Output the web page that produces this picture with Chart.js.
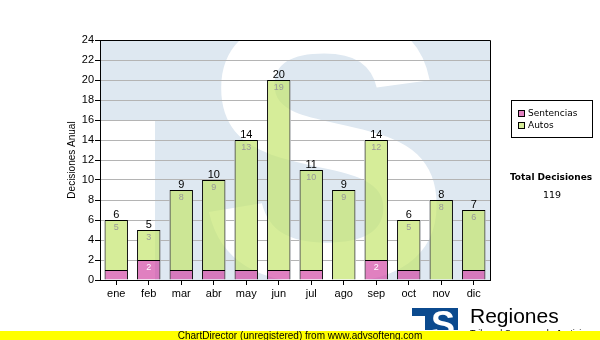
<!DOCTYPE html>
<html>
<head>
<meta charset="utf-8">
<script src="https://cdn.jsdelivr.net/npm/chart.js@4/dist/chart.umd.min.js"></script>
<style>
  html, body { margin: 0; padding: 0; background: #fff; }
  #wrap { width: 600px; height: 340px; position: relative; }
</style>
</head>
<body>
<div id="wrap"><canvas id="c" width="600" height="340"></canvas></div>
<script>
// Monthly decisions, stacked: sentences at the bottom, orders on top
const categories = ['ene', 'feb', 'mar', 'abr', 'may', 'jun', 'jul', 'ago', 'sep', 'oct', 'nov', 'dic'];
const sentencias = [1, 2, 1, 1, 1, 1, 1, 0, 2, 1, 0, 1];
const autos = [5, 3, 8, 9, 13, 19, 10, 9, 12, 5, 8, 6];
const seriesNames = ['Sentencias', 'Autos'];
const yMin = 0, yMax = 24, yStep = 2;
const yTitle = 'Decisiones Anual';
const totalTitle = 'Total Decisiones';

const FONT = '"Liberation Sans", Arial, sans-serif';
const UI_FONT = '"DejaVu Sans", Verdana, sans-serif';
const PINK = 'rgba(211, 74, 165, 0.7)';
const GREEN = 'rgba(196, 229, 110, 0.7)';
const WM_BLUE = 'rgb(222, 232, 241)';
const LOGO_BLUE = '#0b4a8e';

Chart.defaults.font.family = FONT;
Chart.defaults.color = '#000';

// Light "TS" emblem painted behind the plot
function paintEmblem(ctx, a) {
  const w = a.right - a.left, h = a.bottom - a.top;
  ctx.save();
  ctx.beginPath();
  ctx.rect(a.left, a.top, w, h);
  ctx.clip();
  ctx.fillStyle = '#fff';
  ctx.fillRect(a.left, a.top, w, h);
  ctx.fillStyle = WM_BLUE;
  ctx.fillRect(a.left, a.top, w, h);
  ctx.fillStyle = '#fff';
  ctx.fillRect(a.left, a.top + 80, 55, h - 80);
  ctx.font = 'bold 380px "Liberation Sans", Arial, sans-serif';
  ctx.textBaseline = 'alphabetic';
  ctx.textAlign = 'left';
  ctx.fillText('S', a.left + 98, a.bottom);
  ctx.restore();
}

const decorations = {
  id: 'decorations',
  beforeDraw(chart) {
    const ctx = chart.ctx;
    ctx.save();
    ctx.fillStyle = '#fff';
    ctx.fillRect(0, 0, chart.width, chart.height);
    ctx.restore();
    paintEmblem(ctx, chart.chartArea);
  },
  beforeDatasetsDraw(chart) {
    // keep grid lines from showing through the translucent bars
    const ctx = chart.ctx;
    ctx.save();
    ctx.beginPath();
    chart.data.datasets.forEach((ds, i) => {
      chart.getDatasetMeta(i).data.forEach(el => {
        const p = el.getProps(['x', 'y', 'base', 'width'], true);
        const hgt = Math.abs(p.base - p.y);
        if (hgt > 0) ctx.rect(p.x - p.width / 2, Math.min(p.y, p.base), p.width, hgt);
      });
    });
    ctx.clip();
    paintEmblem(ctx, chart.chartArea);
    ctx.restore();
  },
  afterDatasetsDraw(chart) {
    const ctx = chart.ctx;
    const ys = chart.scales.y;
    ctx.save();
    // values inside each segment
    ctx.font = '9px ' + FONT;
    ctx.textAlign = 'center';
    ctx.textBaseline = 'top';
    const segColors = ['#ffffff', '#9a9a9a'];
    chart.data.datasets.forEach((ds, i) => {
      chart.getDatasetMeta(i).data.forEach((el, j) => {
        const p = el.getProps(['x', 'y', 'base'], true);
        if (Math.abs(p.base - p.y) >= 12) {
          ctx.fillStyle = segColors[i];
          ctx.fillText(String(ds.data[j]), p.x, p.y + 3);
        }
      });
    });
    // totals above each stack
    ctx.font = '11px ' + FONT;
    ctx.fillStyle = '#000';
    ctx.textBaseline = 'alphabetic';
    const meta = chart.getDatasetMeta(0);
    categories.forEach((c, j) => {
      const total = sentencias[j] + autos[j];
      const x = meta.data[j].x;
      ctx.fillText(String(total), x, ys.getPixelForValue(total) - 2);
    });
    ctx.restore();
  },
  afterDraw(chart) {
    const ctx = chart.ctx;
    const a = chart.chartArea;
    ctx.save();
    // frame
    ctx.strokeStyle = '#000';
    ctx.lineWidth = 1;
    ctx.beginPath();
    ctx.moveTo(a.left, Math.round(a.top) + 0.5);
    ctx.lineTo(Math.round(a.right) + 0.5, Math.round(a.top) + 0.5);
    ctx.lineTo(Math.round(a.right) + 0.5, a.bottom);
    ctx.stroke();

    // axis title
    ctx.save();
    ctx.translate(72, (a.top + a.bottom) / 2);
    ctx.rotate(-Math.PI / 2);
    ctx.font = '10px ' + FONT;
    ctx.fillStyle = '#000';
    ctx.textAlign = 'center';
    ctx.textBaseline = 'middle';
    ctx.fillText(yTitle, 0, 0);
    ctx.restore();

    // legend
    const lx = 511, ly = 100, lw = 81, lh = 37;
    ctx.fillStyle = '#fff';
    ctx.fillRect(lx, ly, lw, lh);
    ctx.strokeRect(lx + 0.5, ly + 0.5, lw, lh);
    ctx.font = '9px ' + UI_FONT;
    ctx.textAlign = 'left';
    ctx.textBaseline = 'middle';
    chart.data.datasets.forEach((ds, i) => {
      const ry = ly + 10 + i * 12;
      ctx.fillStyle = ds.backgroundColor;
      ctx.fillRect(lx + 7, ry, 7, 7);
      ctx.strokeRect(lx + 7.5, ry + 0.5, 6, 6);
      ctx.fillStyle = '#000';
      ctx.fillText(ds.label, lx + 17, ry + 3.5);
    });

    // overall total
    const sum = sentencias.reduce((s, v) => s + v, 0) + autos.reduce((s, v) => s + v, 0);
    ctx.textAlign = 'center';
    ctx.font = 'bold 9px ' + UI_FONT;
    ctx.fillText(totalTitle, 551, 178);
    ctx.font = '9.5px ' + UI_FONT;
    ctx.fillText(String(sum), 552, 196);

    // emblem and caption
    ctx.fillStyle = LOGO_BLUE;
    ctx.fillRect(412, 308, 46, 22);
    ctx.fillStyle = '#fff';
    ctx.fillRect(412, 316, 13, 14);
    ctx.save();
    ctx.beginPath();
    ctx.rect(412, 308, 46, 22);
    ctx.clip();
    ctx.font = 'bold 36px "Liberation Sans", Arial, sans-serif';
    ctx.textAlign = 'left';
    ctx.textBaseline = 'alphabetic';
    ctx.fillText('S', 431, 337);
    ctx.restore();
    ctx.fillStyle = '#000';
    ctx.textAlign = 'left';
    ctx.textBaseline = 'alphabetic';
    ctx.font = '21px ' + FONT;
    ctx.fillText('Regiones', 470, 323);
    ctx.font = '9px ' + FONT;
    ctx.fillText('Tribunal Supremo de Justicia', 470, 336);

    // footer band
    ctx.fillStyle = '#ffff00';
    ctx.fillRect(0, 331, 600, 9);
    ctx.fillStyle = '#000';
    ctx.font = '10px ' + FONT;
    ctx.textAlign = 'center';
    ctx.fillText('ChartDirector (unregistered) from www.advsofteng.com', 300, 339);
    ctx.restore();
  }
};

new Chart(document.getElementById('c'), {
  type: 'bar',
  data: {
    labels: categories,
    datasets: [
      { label: seriesNames[0], data: sentencias, backgroundColor: PINK, borderColor: '#000', borderWidth: 1 },
      { label: seriesNames[1], data: autos, backgroundColor: GREEN, borderColor: '#000', borderWidth: 1 }
    ]
  },
  options: {
    responsive: false,
    animation: false,
    events: [],
    layout: { padding: { left: 0, top: 40, right: 110, bottom: 40 } },
    datasets: { bar: { barPercentage: 0.72, categoryPercentage: 1 } },
    plugins: { legend: { display: false }, tooltip: { enabled: false }, title: { display: false } },
    scales: {
      x: {
        stacked: true,
        afterFit(s) { s.height = 20; },
        grid: { display: true, drawOnChartArea: false, offset: false, tickLength: 5, tickColor: '#000' },
        border: { display: true, color: '#000' },
        ticks: { font: { size: 11 }, color: '#000', padding: 2, maxRotation: 0 }
      },
      y: {
        stacked: true,
        min: yMin, max: yMax,
        afterFit(s) { s.width = 100; },
        grid: { color: '#b4b4b4', tickLength: 5, tickColor: '#000' },
        border: { display: true, color: '#000' },
        ticks: { stepSize: yStep, font: { size: 11 }, color: '#000', padding: 1 }
      }
    }
  },
  plugins: [decorations]
});
</script>
</body>
</html>
